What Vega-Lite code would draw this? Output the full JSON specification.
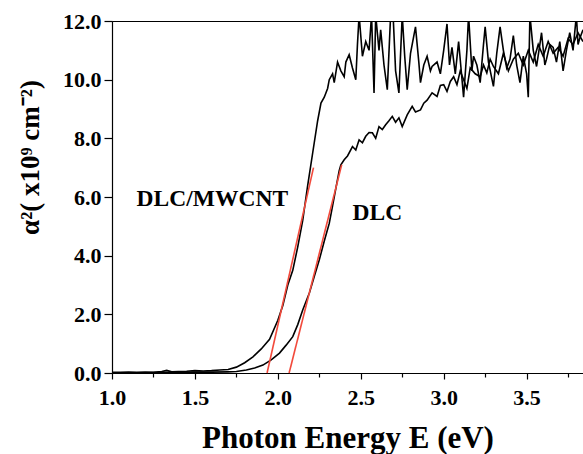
{
  "$schema": "https://vega.github.io/schema/vega-lite/v6.json",
  "width": 471,
  "height": 352,
  "autosize": {"type": "none"},
  "padding": {"left": 112, "top": 21, "right": 0, "bottom": 81},
  "background": "#ffffff",
  "config": {
    "view": {"stroke": "#000000", "strokeWidth": 1},
    "font": "Liberation Serif",
    "axis": {
      "grid": false,
      "ticks": true,
      "domainColor": "#000000",
      "tickColor": "#000000",
      "labelColor": "#000000",
      "titleColor": "#000000",
      "labelFont": "Liberation Serif",
      "titleFont": "Liberation Serif",
      "labelFontWeight": "bold",
      "titleFontWeight": "bold",
      "labelFontSize": 22,
      "domainWidth": 1.2,
      "tickWidth": 1.2
    }
  },
  "datasets": {
    "curves": [
      {"s": "MWCNT", "x": 1.00, "y": 0.02}, {"s": "MWCNT", "x": 1.05, "y": 0.02}, {"s": "MWCNT", "x": 1.10, "y": 0.03}, {"s": "MWCNT", "x": 1.15, "y": 0.02}, {"s": "MWCNT", "x": 1.20, "y": 0.03}, {"s": "MWCNT", "x": 1.25, "y": 0.02}, {"s": "MWCNT", "x": 1.30, "y": 0.05}, {"s": "MWCNT", "x": 1.33, "y": 0.09}, {"s": "MWCNT", "x": 1.36, "y": 0.04}, {"s": "MWCNT", "x": 1.40, "y": 0.05}, {"s": "MWCNT", "x": 1.45, "y": 0.06}, {"s": "MWCNT", "x": 1.50, "y": 0.08}, {"s": "MWCNT", "x": 1.55, "y": 0.07}, {"s": "MWCNT", "x": 1.60, "y": 0.08}, {"s": "MWCNT", "x": 1.65, "y": 0.1}, {"s": "MWCNT", "x": 1.70, "y": 0.12}, {"s": "MWCNT", "x": 1.75, "y": 0.2}, {"s": "MWCNT", "x": 1.80, "y": 0.35}, {"s": "MWCNT", "x": 1.85, "y": 0.55}, {"s": "MWCNT", "x": 1.90, "y": 0.82}, {"s": "MWCNT", "x": 1.95, "y": 1.15}, {"s": "MWCNT", "x": 2.00, "y": 1.8}, {"s": "MWCNT", "x": 2.03, "y": 2.3}, {"s": "MWCNT", "x": 2.06, "y": 3.0}, {"s": "MWCNT", "x": 2.09, "y": 3.5}, {"s": "MWCNT", "x": 2.12, "y": 4.3}, {"s": "MWCNT", "x": 2.15, "y": 5.2}, {"s": "MWCNT", "x": 2.18, "y": 6.4}, {"s": "MWCNT", "x": 2.21, "y": 7.5}, {"s": "MWCNT", "x": 2.24, "y": 8.6}, {"s": "MWCNT", "x": 2.26, "y": 9.2}, {"s": "MWCNT", "x": 2.28, "y": 9.4}, {"s": "MWCNT", "x": 2.30, "y": 9.7}, {"s": "MWCNT", "x": 2.31, "y": 10.0}, {"s": "MWCNT", "x": 2.33, "y": 10.2}, {"s": "MWCNT", "x": 2.34, "y": 9.9}, {"s": "MWCNT", "x": 2.36, "y": 10.6}, {"s": "MWCNT", "x": 2.38, "y": 10.3}, {"s": "MWCNT", "x": 2.40, "y": 10.1}, {"s": "MWCNT", "x": 2.41, "y": 10.6}, {"s": "MWCNT", "x": 2.43, "y": 10.85}, {"s": "MWCNT", "x": 2.45, "y": 10.4}, {"s": "MWCNT", "x": 2.47, "y": 10.0}, {"s": "MWCNT", "x": 2.48, "y": 11.2}, {"s": "MWCNT", "x": 2.49, "y": 12.2}, {"s": "MWCNT", "x": 2.51, "y": 10.8}, {"s": "MWCNT", "x": 2.53, "y": 11.3}, {"s": "MWCNT", "x": 2.55, "y": 11.0}, {"s": "MWCNT", "x": 2.565, "y": 12.2}, {"s": "MWCNT", "x": 2.58, "y": 9.55}, {"s": "MWCNT", "x": 2.59, "y": 12.2}, {"s": "MWCNT", "x": 2.61, "y": 11.0}, {"s": "MWCNT", "x": 2.62, "y": 11.7}, {"s": "MWCNT", "x": 2.64, "y": 10.5}, {"s": "MWCNT", "x": 2.66, "y": 9.66}, {"s": "MWCNT", "x": 2.68, "y": 12.2}, {"s": "MWCNT", "x": 2.695, "y": 12.2}, {"s": "MWCNT", "x": 2.71, "y": 10.3}, {"s": "MWCNT", "x": 2.73, "y": 9.55}, {"s": "MWCNT", "x": 2.75, "y": 12.2}, {"s": "MWCNT", "x": 2.765, "y": 10.8}, {"s": "MWCNT", "x": 2.78, "y": 9.66}, {"s": "MWCNT", "x": 2.80, "y": 10.9}, {"s": "MWCNT", "x": 2.83, "y": 11.8}, {"s": "MWCNT", "x": 2.85, "y": 10.6}, {"s": "MWCNT", "x": 2.86, "y": 9.9}, {"s": "MWCNT", "x": 2.88, "y": 10.5}, {"s": "MWCNT", "x": 2.90, "y": 10.8}, {"s": "MWCNT", "x": 2.92, "y": 10.3}, {"s": "MWCNT", "x": 2.93, "y": 10.45}, {"s": "MWCNT", "x": 2.96, "y": 10.6}, {"s": "MWCNT", "x": 2.98, "y": 10.2}, {"s": "MWCNT", "x": 3.00, "y": 11.0}, {"s": "MWCNT", "x": 3.02, "y": 11.9}, {"s": "MWCNT", "x": 3.035, "y": 10.5}, {"s": "MWCNT", "x": 3.05, "y": 11.1}, {"s": "MWCNT", "x": 3.07, "y": 10.2}, {"s": "MWCNT", "x": 3.09, "y": 11.3}, {"s": "MWCNT", "x": 3.12, "y": 9.4}, {"s": "MWCNT", "x": 3.14, "y": 11.0}, {"s": "MWCNT", "x": 3.15, "y": 12.2}, {"s": "MWCNT", "x": 3.17, "y": 10.3}, {"s": "MWCNT", "x": 3.18, "y": 10.8}, {"s": "MWCNT", "x": 3.20, "y": 10.5}, {"s": "MWCNT", "x": 3.22, "y": 9.9}, {"s": "MWCNT", "x": 3.24, "y": 11.2}, {"s": "MWCNT", "x": 3.25, "y": 11.8}, {"s": "MWCNT", "x": 3.27, "y": 10.6}, {"s": "MWCNT", "x": 3.30, "y": 9.77}, {"s": "MWCNT", "x": 3.32, "y": 10.9}, {"s": "MWCNT", "x": 3.34, "y": 11.8}, {"s": "MWCNT", "x": 3.36, "y": 11.0}, {"s": "MWCNT", "x": 3.38, "y": 10.4}, {"s": "MWCNT", "x": 3.40, "y": 10.7}, {"s": "MWCNT", "x": 3.42, "y": 11.5}, {"s": "MWCNT", "x": 3.44, "y": 10.5}, {"s": "MWCNT", "x": 3.46, "y": 9.9}, {"s": "MWCNT", "x": 3.48, "y": 10.8}, {"s": "MWCNT", "x": 3.50, "y": 10.2}, {"s": "MWCNT", "x": 3.51, "y": 9.4}, {"s": "MWCNT", "x": 3.52, "y": 12.2}, {"s": "MWCNT", "x": 3.54, "y": 11.0}, {"s": "MWCNT", "x": 3.56, "y": 10.45}, {"s": "MWCNT", "x": 3.58, "y": 11.2}, {"s": "MWCNT", "x": 3.59, "y": 11.6}, {"s": "MWCNT", "x": 3.61, "y": 10.5}, {"s": "MWCNT", "x": 3.62, "y": 10.7}, {"s": "MWCNT", "x": 3.64, "y": 11.2}, {"s": "MWCNT", "x": 3.66, "y": 11.1}, {"s": "MWCNT", "x": 3.68, "y": 10.6}, {"s": "MWCNT", "x": 3.70, "y": 11.3}, {"s": "MWCNT", "x": 3.72, "y": 10.3}, {"s": "MWCNT", "x": 3.74, "y": 11.0}, {"s": "MWCNT", "x": 3.76, "y": 11.6}, {"s": "MWCNT", "x": 3.78, "y": 11.0}, {"s": "MWCNT", "x": 3.80, "y": 12.2}, {"s": "MWCNT", "x": 3.81, "y": 11.2}, {"s": "MWCNT", "x": 3.82, "y": 11.4}, {"s": "MWCNT", "x": 3.84, "y": 11.7},
      {"s": "DLC", "x": 1.00, "y": 0.0}, {"s": "DLC", "x": 1.10, "y": 0.01}, {"s": "DLC", "x": 1.20, "y": 0.01}, {"s": "DLC", "x": 1.30, "y": 0.02}, {"s": "DLC", "x": 1.40, "y": 0.02}, {"s": "DLC", "x": 1.50, "y": 0.03}, {"s": "DLC", "x": 1.60, "y": 0.03}, {"s": "DLC", "x": 1.70, "y": 0.04}, {"s": "DLC", "x": 1.75, "y": 0.05}, {"s": "DLC", "x": 1.81, "y": 0.1}, {"s": "DLC", "x": 1.86, "y": 0.17}, {"s": "DLC", "x": 1.91, "y": 0.27}, {"s": "DLC", "x": 1.96, "y": 0.45}, {"s": "DLC", "x": 2.01, "y": 0.68}, {"s": "DLC", "x": 2.05, "y": 0.95}, {"s": "DLC", "x": 2.09, "y": 1.24}, {"s": "DLC", "x": 2.12, "y": 1.65}, {"s": "DLC", "x": 2.15, "y": 2.15}, {"s": "DLC", "x": 2.19, "y": 2.73}, {"s": "DLC", "x": 2.22, "y": 3.3}, {"s": "DLC", "x": 2.25, "y": 3.86}, {"s": "DLC", "x": 2.28, "y": 4.5}, {"s": "DLC", "x": 2.31, "y": 5.1}, {"s": "DLC", "x": 2.33, "y": 5.7}, {"s": "DLC", "x": 2.35, "y": 6.3}, {"s": "DLC", "x": 2.37, "y": 6.9}, {"s": "DLC", "x": 2.38, "y": 7.1}, {"s": "DLC", "x": 2.40, "y": 7.27}, {"s": "DLC", "x": 2.42, "y": 7.4}, {"s": "DLC", "x": 2.45, "y": 7.72}, {"s": "DLC", "x": 2.47, "y": 7.6}, {"s": "DLC", "x": 2.49, "y": 7.95}, {"s": "DLC", "x": 2.51, "y": 7.85}, {"s": "DLC", "x": 2.53, "y": 8.07}, {"s": "DLC", "x": 2.55, "y": 8.2}, {"s": "DLC", "x": 2.57, "y": 8.19}, {"s": "DLC", "x": 2.59, "y": 8.0}, {"s": "DLC", "x": 2.61, "y": 8.4}, {"s": "DLC", "x": 2.63, "y": 8.3}, {"s": "DLC", "x": 2.65, "y": 8.46}, {"s": "DLC", "x": 2.67, "y": 8.6}, {"s": "DLC", "x": 2.69, "y": 8.75}, {"s": "DLC", "x": 2.71, "y": 8.55}, {"s": "DLC", "x": 2.73, "y": 8.7}, {"s": "DLC", "x": 2.75, "y": 8.4}, {"s": "DLC", "x": 2.78, "y": 8.8}, {"s": "DLC", "x": 2.81, "y": 9.09}, {"s": "DLC", "x": 2.83, "y": 8.9}, {"s": "DLC", "x": 2.86, "y": 8.97}, {"s": "DLC", "x": 2.88, "y": 9.2}, {"s": "DLC", "x": 2.90, "y": 9.3}, {"s": "DLC", "x": 2.93, "y": 9.55}, {"s": "DLC", "x": 2.96, "y": 9.43}, {"s": "DLC", "x": 2.98, "y": 9.8}, {"s": "DLC", "x": 3.00, "y": 9.83}, {"s": "DLC", "x": 3.02, "y": 9.6}, {"s": "DLC", "x": 3.04, "y": 9.94}, {"s": "DLC", "x": 3.06, "y": 10.1}, {"s": "DLC", "x": 3.08, "y": 9.83}, {"s": "DLC", "x": 3.10, "y": 10.3}, {"s": "DLC", "x": 3.12, "y": 10.0}, {"s": "DLC", "x": 3.14, "y": 9.7}, {"s": "DLC", "x": 3.16, "y": 10.4}, {"s": "DLC", "x": 3.19, "y": 10.2}, {"s": "DLC", "x": 3.22, "y": 10.1}, {"s": "DLC", "x": 3.24, "y": 10.5}, {"s": "DLC", "x": 3.26, "y": 10.23}, {"s": "DLC", "x": 3.28, "y": 10.7}, {"s": "DLC", "x": 3.30, "y": 10.45}, {"s": "DLC", "x": 3.33, "y": 10.2}, {"s": "DLC", "x": 3.36, "y": 10.9}, {"s": "DLC", "x": 3.39, "y": 10.3}, {"s": "DLC", "x": 3.42, "y": 10.7}, {"s": "DLC", "x": 3.45, "y": 10.9}, {"s": "DLC", "x": 3.48, "y": 10.5}, {"s": "DLC", "x": 3.51, "y": 11.0}, {"s": "DLC", "x": 3.54, "y": 10.6}, {"s": "DLC", "x": 3.57, "y": 11.2}, {"s": "DLC", "x": 3.60, "y": 10.8}, {"s": "DLC", "x": 3.63, "y": 11.3}, {"s": "DLC", "x": 3.66, "y": 10.9}, {"s": "DLC", "x": 3.69, "y": 11.1}, {"s": "DLC", "x": 3.72, "y": 10.8}, {"s": "DLC", "x": 3.75, "y": 11.4}, {"s": "DLC", "x": 3.78, "y": 11.2}, {"s": "DLC", "x": 3.81, "y": 11.6}, {"s": "DLC", "x": 3.84, "y": 11.3}
    ],
    "fits": [
      {"s": "MWCNT fit", "x": 1.935, "y": 0.0}, {"s": "MWCNT fit", "x": 2.215, "y": 7.0},
      {"s": "DLC fit", "x": 2.068, "y": 0.0}, {"s": "DLC fit", "x": 2.385, "y": 7.1}
    ],
    "labels": [
      {"x": 1.605, "y": 5.94, "t": "DLC/MWCNT"},
      {"x": 2.6, "y": 5.46, "t": "DLC"}
    ]
  },
  "layer": [
    {
      "data": {"name": "curves"},
      "mark": {"type": "line", "color": "#000000", "strokeWidth": 1.6, "clip": true},
      "encoding": {
        "x": {
          "field": "x", "type": "quantitative",
          "scale": {"domain": [1.0, 3.84], "nice": false, "zero": false},
          "axis": {
            "values": [1.0, 1.25, 1.5, 1.75, 2.0, 2.25, 2.5, 2.75, 3.0, 3.25, 3.5, 3.75],
            "labelExpr": "abs(datum.value*2 - round(datum.value*2)) < 0.001 ? format(datum.value, '.1f') : ''",
            "tickSize": {"condition": {"test": "abs(datum.value*2 - round(datum.value*2)) < 0.001", "value": 6}, "value": 4},
            "labelPadding": 8,
            "labelFlush": false,
            "labelOverlap": false,
            "title": "Photon Energy E (eV)",
            "titleFontSize": 31,
            "titleBaseline": "alphabetic",
            "titleY": 74
          }
        },
        "y": {
          "field": "y", "type": "quantitative",
          "scale": {"domain": [0, 12], "nice": false},
          "axis": {
            "values": [0, 1, 2, 3, 4, 5, 6, 7, 8, 9, 10, 11, 12],
            "labelExpr": "datum.value % 2 == 0 ? format(datum.value, '.1f') : ''",
            "tickSize": {"condition": {"test": "datum.value % 2 == 0", "value": 8}, "value": 4},
            "labelPadding": 3,
            "labelFlush": false,
            "labelOverlap": false,
            "title": "α²( x10⁹ cm⁻²)",
            "titleFontSize": 27,
            "titleAngle": -90,
            "titleAlign": "center",
            "titleBaseline": "middle",
            "titleX": -82,
            "titleY": 136
          }
        },
        "detail": {"field": "s"}
      }
    },
    {
      "data": {"name": "fits"},
      "mark": {"type": "line", "color": "#f24a3c", "strokeWidth": 1.6},
      "encoding": {
        "x": {"field": "x", "type": "quantitative"},
        "y": {"field": "y", "type": "quantitative"},
        "detail": {"field": "s"}
      }
    },
    {
      "data": {"name": "labels"},
      "mark": {"type": "text", "font": "Liberation Serif", "fontWeight": "bold", "fontSize": 23.5, "color": "#000000", "baseline": "middle", "align": "center"},
      "encoding": {
        "x": {"field": "x", "type": "quantitative"},
        "y": {"field": "y", "type": "quantitative"},
        "text": {"field": "t"}
      }
    }
  ]
}
